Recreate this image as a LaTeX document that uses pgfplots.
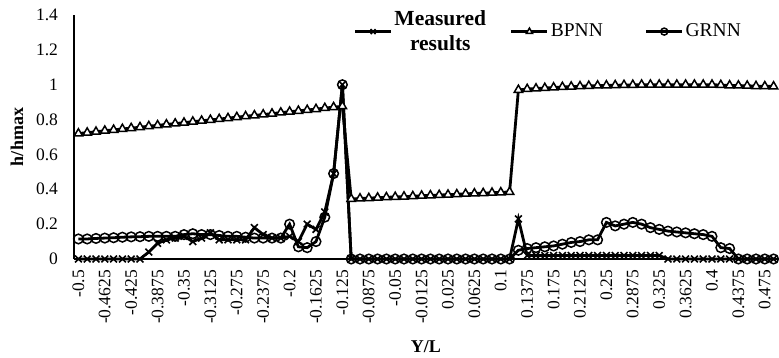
\documentclass[border=0pt]{standalone}
\usepackage{fontspec}
\setmainfont{Liberation Serif}
\usepackage{pgfplots}
\usepackage{pgfplotstable}
\pgfplotsset{compat=1.18}
\pgfplotstableread{
x meas bpnn grnn
-0.5 0 0.720 0.115
-0.4875 0 0.725 0.115
-0.475 0 0.730 0.118
-0.4625 0 0.736 0.120
-0.45 0 0.741 0.122
-0.4375 0 0.746 0.125
-0.425 0 0.751 0.127
-0.4125 0 0.756 0.128
-0.4 0.04 0.762 0.130
-0.3875 0.09 0.767 0.130
-0.375 0.11 0.772 0.130
-0.3625 0.12 0.777 0.130
-0.35 0.13 0.782 0.140
-0.3375 0.10 0.788 0.145
-0.325 0.12 0.793 0.140
-0.3125 0.15 0.798 0.140
-0.3 0.11 0.803 0.135
-0.2875 0.11 0.808 0.130
-0.275 0.11 0.814 0.130
-0.2625 0.11 0.819 0.125
-0.25 0.18 0.824 0.120
-0.2375 0.14 0.829 0.120
-0.225 0.12 0.834 0.120
-0.2125 0.12 0.840 0.120
-0.2 0.13 0.845 0.200
-0.1875 0.10 0.850 0.070
-0.175 0.20 0.855 0.065
-0.1625 0.17 0.860 0.100
-0.15 0.27 0.866 0.240
-0.1375 0.49 0.871 0.490
-0.125 1.0 0.876 1.000
-0.1125 0 0.345 0
-0.1 0 0.347 0
-0.0875 0 0.349 0
-0.075 0 0.352 0
-0.0625 0 0.354 0
-0.05 0 0.356 0
-0.0375 0 0.358 0
-0.025 0 0.360 0
-0.0125 0 0.363 0
0 0 0.365 0
0.0125 0 0.367 0
0.025 0 0.369 0
0.0375 0 0.371 0
0.05 0 0.374 0
0.0625 0 0.376 0
0.075 0 0.378 0
0.0875 0 0.380 0
0.1 0 0.382 0
0.1125 0 0.385 0
0.125 0.23 0.970 0.050
0.1375 0.02 0.975 0.060
0.15 0.02 0.978 0.065
0.1625 0.02 0.981 0.070
0.175 0.02 0.984 0.075
0.1875 0.02 0.987 0.085
0.2 0.02 0.989 0.095
0.2125 0.02 0.991 0.100
0.225 0.02 0.993 0.110
0.2375 0.02 0.995 0.110
0.25 0.02 0.996 0.210
0.2625 0.02 0.997 0.190
0.275 0.02 0.998 0.200
0.2875 0.02 0.999 0.210
0.3 0.02 1.000 0.200
0.3125 0.02 1.000 0.180
0.325 0.02 1.000 0.170
0.3375 0 1.000 0.160
0.35 0 1.000 0.155
0.3625 0 1.000 0.150
0.375 0 1.000 0.145
0.3875 0 1.000 0.140
0.4 0 1.000 0.130
0.4125 0 0.998 0.065
0.425 0 0.996 0.060
0.4375 0 0.995 0
0.45 0 0.994 0
0.4625 0 0.992 0
0.475 0 0.991 0
0.4875 0 0.990 0
}\datatable

\begin{document}
\fontsize{17.5bp}{21bp}\selectfont
\begin{tikzpicture}
\path[use as bounding box] (-74bp,-99bp) rectangle (705bp,259bp);
\begin{axis}[
  at={(0,0)}, anchor=south west,
  scale only axis, width=704bp, height=244bp,
  xmin=-0.50625, xmax=0.49375, ymin=0, ymax=1.4,
  axis x line=bottom, axis y line=left,
  axis line style={-, line width=1.4bp, black},
  xtick={-0.5,-0.4625,-0.425,-0.3875,-0.35,-0.3125,-0.275,-0.2375,-0.2,-0.1625,-0.125,-0.0875,-0.05,-0.0125,0.025,0.0625,0.1,0.1375,0.175,0.2125,0.25,0.2875,0.325,0.3625,0.4,0.4375,0.475},
  xticklabels={-0.5,-0.4625,-0.425,-0.3875,-0.35,-0.3125,-0.275,-0.2375,-0.2,-0.1625,-0.125,-0.0875,-0.05,-0.0125,0.025,0.0625,0.1,0.1375,0.175,0.2125,0.25,0.2875,0.325,0.3625,0.4,0.4375,0.475},
  ytick={0,0.2,0.4,0.6,0.8,1,1.2,1.4},
  yticklabels={0,0.2,0.4,0.6,0.8,1,1.2,1.4},
  major tick length=0pt,
  xticklabel style={rotate=90, anchor=east, font=\fontsize{17.5bp}{20bp}\selectfont},
  yticklabel style={font=\fontsize{17.5bp}{20bp}\selectfont},
  xticklabel shift=5bp,
  yticklabel shift=10bp,
  every axis x label/.style={at={(rel axis cs:0.5,0)}, yshift=-88bp, anchor=center, font=\bfseries\fontsize{18bp}{20bp}\selectfont},
  every axis y label/.style={at={(rel axis cs:0,0.5)}, xshift=-57bp, rotate=90, anchor=center, font=\bfseries\fontsize{18bp}{20bp}\selectfont},
  xlabel={Y/L},
  ylabel={h/hmax},
  clip=false,
  legend columns=3,
  legend style={at={(0.397,0.932)}, anchor=west, draw=none, fill=none, inner sep=0pt,
    font=\fontsize{19.5bp}{25bp}\selectfont, cells={align=center},
    /tikz/column 2/.style={column sep=22bp},
    /tikz/column 4/.style={column sep=40bp}},
  legend image code/.code={\draw[mark repeat=2,mark phase=2,mark size=3.5bp,#1] plot coordinates {(0bp,0bp) (18bp,0bp) (36bp,0bp)};},
]
\addplot[black, line width=2.8bp, mark=x, mark size=4.8bp, mark options={line width=1.6bp}] table[x=x, y=meas] {\datatable};
\addlegendentry{\fontsize{21.5bp}{25bp}\selectfont\textbf{Measured}\\\fontsize{21.5bp}{25bp}\selectfont\textbf{results}}
\addplot[black, line width=2.8bp, mark=triangle*, mark size=4.8bp, mark options={fill=white, line width=1.5bp}] table[x=x, y=bpnn] {\datatable};
\addlegendentry{BPNN}
\addplot[black, line width=2.8bp, mark=o, mark size=4.8bp, mark options={line width=1.5bp}] table[x=x, y=grnn] {\datatable};
\addlegendentry{GRNN}
\end{axis}
\end{tikzpicture}
\end{document}
